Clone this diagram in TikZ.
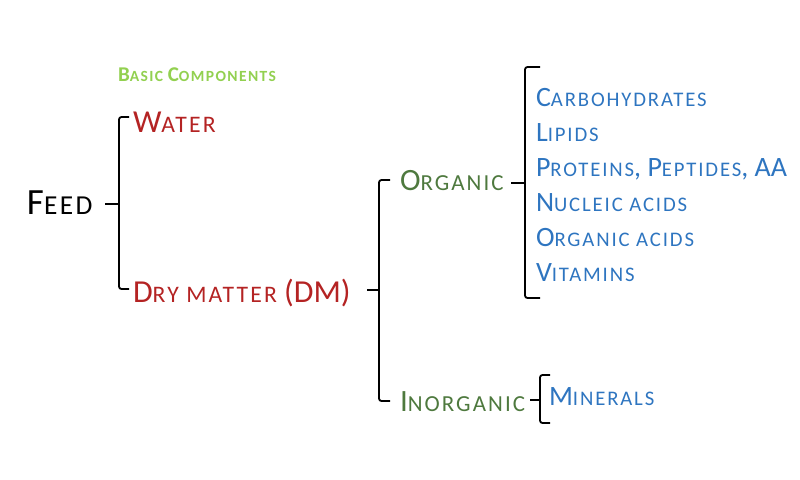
\documentclass[tikz,border=0pt]{standalone}
\usepackage{fontspec}
\setmainfont{Carlito}
\usetikzlibrary{positioning}
\definecolor{rojo}{RGB}{180,35,35}
\definecolor{verde}{RGB}{78,121,62}
\definecolor{verdeClaro}{RGB}{146,208,80}
\definecolor{azul}{RGB}{46,117,192}
% small capitals, Carlito has none of its own
\makeatletter
\newcommand\low[1]{{\fontsize{\fpeval{0.74*\f@size}}{0}\selectfont
    \addfontfeatures{LetterSpace=9}#1}}
\makeatother
\tikzstyle{brace}=[line width=1.8pt, rounded corners=2.5pt]
\tikzstyle{label}=[anchor=base west, inner sep=0pt, outer sep=0pt]
\tikzstyle{title}=[label, text=verdeClaro,
                   font=\fontsize{21}{23}\selectfont\bfseries]
\tikzstyle{feed}=[label, text=black, font=\fontsize{37}{39}\selectfont]
\tikzstyle{comp}=[label, text=rojo, font=\fontsize{32}{34}\selectfont]
\tikzstyle{kind}=[label, text=verde, font=\fontsize{31}{33}\selectfont]
\tikzstyle{item}=[label, text=azul, font=\fontsize{28}{30}\selectfont]

\begin{document}
\begin{tikzpicture}[x=1pt,y=-1pt]
    \useasboundingbox (0,0) rectangle (800,479);

    \node[title] (basic) at (118,81) {B\low{ASIC} C\low{OMPONENTS}};
    \node[feed] (feed) at (27,214) {F\low{EED}};
    \node[comp] (water) at (133,132) {W\low{ATER}};
    \node[comp] (dm) at (133,302) {D\low{RY MATTER} (DM)};
    \node[kind] (org) at (400,190) {O\low{RGANIC}};
    \node[kind] (inorg) at (400,411) {I\low{NORGANIC}};

    \foreach \n/\t [count=\i] in {carb/C\low{ARBOHYDRATES}, lip/L\low{IPIDS},
            prot/{P\low{ROTEINS}, P\low{EPTIDES}, AA}, nuc/N\low{UCLEIC ACIDS},
            oac/O\low{RGANIC ACIDS}, vit/V\low{ITAMINS}}
        \node[item] (\n) at (536,71+35*\i) {\t};
    \node[item] (min) at (549,405) {M\low{INERALS}};

    % x / top / middle / bottom / tick / end
    \foreach \x/\t/\m/\b/\l/\r in {119/117/204/289/105/129,
                                  379/180/290/401/367/390,
                                  525/67/183/298/511/540,
                                  540/375/400/423/530/550}
        \draw[brace] (\r,\t) -- (\x,\t) -- (\x,\b) -- (\r,\b)
                     (\x,\m) -- (\l,\m);
\end{tikzpicture}
\end{document}
